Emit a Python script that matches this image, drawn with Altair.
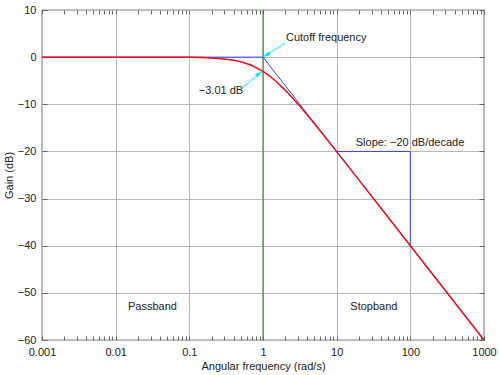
import altair as alt
import pandas as pd

# ---- data ----
freq = [0.001, 0.01, 0.05, 0.1, 0.15, 0.2, 0.3, 0.4, 0.5, 0.7, 1, 1.2, 1.5, 2, 2.5, 3, 4, 5, 7,
        10, 20, 50, 100, 1000]
gain = [0, 0, -0.01, -0.04, -0.10, -0.17, -0.37, -0.64, -0.97, -1.73, -3.01, -3.87, -5.12,
        -6.99, -8.60, -10.0, -12.30, -14.15, -16.99, -20.04, -26.03, -33.98, -40.0, -60.0]

asym_freq = [0.001, 1, 1000]
asym_gain = [0, 0, -60]

slope_freq = [10, 100, 100]
slope_gain = [-20, -20, -40]

cutoff = [1]

x_ticks = [0.001, 0.01, 0.1, 1, 10, 100, 1000]
x_minor = [m * 10 ** e for e in range(-3, 3) for m in range(1, 10)] + [1000]
y_ticks = [-60, -50, -40, -30, -20, -10, 0, 10]

arrow1_f = [2.0, 1.0]
arrow1_g = [3.0, 0.0]
arrow2_f = [0.52, 0.97]
arrow2_g = [-6.6, -3.01]

labels_center = ["\u22123.01 dB", "Slope: \u221220 dB/decade", "Passband", "Stopband"]
labels_center_f = [0.269, 99, 0.0316, 32]
labels_center_g = [-7.2, -18.2, -53.1, -53.1]

labels_left = ["Cutoff frequency"]
labels_left_f = [2.05]
labels_left_g = [4.0]

# ---- tables ----
curve = pd.DataFrame({"f": freq, "g": gain})
asym = pd.DataFrame({"f": asym_freq, "g": asym_gain})
slope = pd.DataFrame({"f": slope_freq, "g": slope_gain, "o": [0, 1, 2]})
cut = pd.DataFrame({"f": cutoff})
arr1 = pd.DataFrame({"f": arrow1_f, "g": arrow1_g})
arr2 = pd.DataFrame({"f": arrow2_f, "g": arrow2_g})
tc = pd.DataFrame({"t": labels_center, "f": labels_center_f, "g": labels_center_g})
tl = pd.DataFrame({"t": labels_left, "f": labels_left_f, "g": labels_left_g})

FONT = "Liberation Sans"
W, H = 442, 330

xs = alt.Scale(type="log", domain=[0.001, 1000], nice=False)
ys = alt.Scale(domain=[-60, 10], nice=False, zero=False)

# main axes: labels + grid
ax_x = alt.Axis(values=x_ticks, format="~g", grid=True, gridColor="#b8b8b8", gridOpacity=1,
                ticks=False, domain=False, labelFont=FONT, labelFontSize=11, labelColor="#222",
                labelPadding=6, labelFlush=False, title="Angular frequency (rad/s)",
                titleFont=FONT, titleFontSize=11, titleFontWeight="normal", titleColor="#222",
                titlePadding=3)
ax_y = alt.Axis(values=y_ticks, grid=True, gridColor="#b8b8b8", gridOpacity=1, ticks=False,
                domain=False, labelFont=FONT, labelFontSize=11, labelColor="#222",
                labelPadding=6, labelFlush=False, title="Gain (dB)", titleFont=FONT,
                titleFontSize=11, titleFontWeight="normal", titleColor="#222", titlePadding=3)

# inward ticks, bottom and left
ax_x_b = alt.Axis(orient="top", offset=-H, values=x_minor, labels=False, grid=False,
                  domain=False, ticks=True, tickSize=4, tickColor="#666", title=None)
ax_y_l = alt.Axis(orient="right", offset=-W, values=y_ticks, labels=False, grid=False,
                  domain=False, ticks=True, tickSize=5, tickColor="#666", title=None)
# inward ticks, top and right
ax_x_t = alt.Axis(orient="bottom", offset=-H, values=x_minor, labels=False, grid=False,
                  domain=False, ticks=True, tickSize=4, tickColor="#666", title=None)
ax_y_r = alt.Axis(orient="left", offset=-W, values=y_ticks, labels=False, grid=False,
                  domain=False, ticks=True, tickSize=5, tickColor="#666", title=None)

green = alt.Chart(cut).mark_rule(color="#2f7a2f", strokeWidth=1).encode(
    x=alt.X("f:Q", scale=xs, axis=ax_x),
    y=alt.value(0), y2=alt.value(H),
)
blue = alt.Chart(asym).mark_line(color="#3c3cff", strokeWidth=1).encode(
    x=alt.X("f:Q", scale=xs, axis=ax_x_b),
    y=alt.Y("g:Q", scale=ys, axis=ax_y),
)
slope_l = alt.Chart(slope).mark_line(color="#3c3cff", strokeWidth=1).encode(
    x=alt.X("f:Q", scale=xs, axis=ax_x_t),
    y=alt.Y("g:Q", scale=ys, axis=ax_y_l),
    order="o:Q",
)
red = alt.Chart(curve).mark_line(color="#e8101c", strokeWidth=1.5).encode(
    x=alt.X("f:Q", scale=xs, axis=None),
    y=alt.Y("g:Q", scale=ys, axis=ax_y_r),
)

ARROW = "M0,0 L-0.45,1.6 L0.45,1.6 Z"
cyan = "#00e8ff"

def arrow(df, ang):
    line = alt.Chart(df).mark_line(color=cyan, strokeWidth=1).encode(
        x=alt.X("f:Q", scale=xs, axis=None),
        y=alt.Y("g:Q", scale=ys, axis=None),
    )
    head = alt.Chart(df.iloc[[1]]).mark_point(shape=ARROW, filled=True, color=cyan, opacity=1,
                                              size=90, angle=ang).encode(
        x=alt.X("f:Q", scale=xs, axis=None),
        y=alt.Y("g:Q", scale=ys, axis=None),
    )
    return line + head

txt_c = alt.Chart(tc).mark_text(font=FONT, fontSize=11, color="#222", align="center",
                                baseline="middle").encode(
    x=alt.X("f:Q", scale=xs, axis=None),
    y=alt.Y("g:Q", scale=ys, axis=None),
    text="t:N",
)
txt_l = alt.Chart(tl).mark_text(font=FONT, fontSize=11, color="#222", align="left",
                                baseline="middle").encode(
    x=alt.X("f:Q", scale=xs, axis=None),
    y=alt.Y("g:Q", scale=ys, axis=None),
    text="t:N",
)

chart = alt.layer(
    green, blue, slope_l, red, arrow(arr1, 237), arrow(arr2, 51), txt_c, txt_l
).resolve_axis(x="independent", y="independent").properties(
    width=W, height=H,
    autosize=alt.AutoSizeParams(type="none"),
    padding={"left": 42, "top": 10, "right": 16, "bottom": 35},
    background="white",
).configure_view(stroke="#222", strokeWidth=1.2)

chart.save("out.html", embed_options={"renderer": "svg", "actions": False})
